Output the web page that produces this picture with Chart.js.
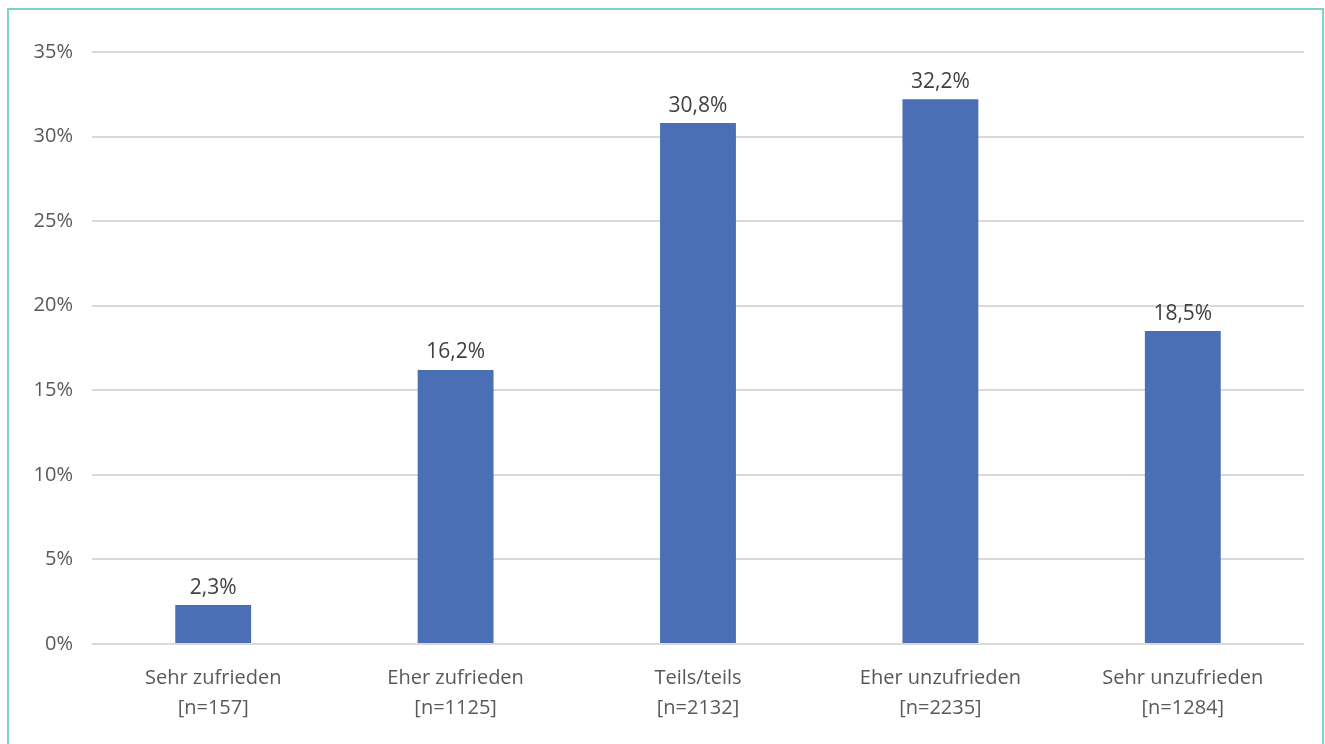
<!DOCTYPE html>
<html><head><meta charset="utf-8">
<script src="https://cdn.jsdelivr.net/npm/chart.js@4"></script>
<style>
html,body{margin:0;padding:0;background:#fff;overflow:hidden}
#wrap{position:absolute;left:0;top:0;width:1325px;height:744px}
#frame{position:absolute;left:7px;top:8px;width:1313px;height:760px;border:2px solid #7fd0c8;pointer-events:none}
</style></head>
<body>
<div id="wrap"><canvas id="c" width="1325" height="744"></canvas></div>
<div id="frame"></div>
<script>
const categories = [["Sehr zufrieden","[n=157]"],["Eher zufrieden","[n=1125]"],["Teils/teils","[n=2132]"],["Eher unzufrieden","[n=2235]"],["Sehr unzufrieden","[n=1284]"]];
const values = [2.3, 16.2, 30.8, 32.2, 18.5];
const valueLabels = ["2,3%","16,2%","30,8%","32,2%","18,5%"];
const yTicks = [0,5,10,15,20,25,30,35];

const FONT = "'Open Sans', sans-serif";
const labelPlugin = {
  id:'vlabels',
  afterDatasetsDraw(chart){
    const ctx = chart.ctx;
    const meta = chart.getDatasetMeta(0);
    ctx.save();
    ctx.font = "21px " + FONT;
    ctx.fillStyle = "#404040";
    ctx.textAlign = "center";
    ctx.textBaseline = "bottom";
    meta.data.forEach((bar,i)=>{
      ctx.fillText(valueLabels[i], bar.x, bar.y - 7);
    });
    ctx.restore();
  }
};

new Chart(document.getElementById('c'),{
  type:'bar',
  data:{labels:categories,datasets:[{data:values,backgroundColor:'#4a6fb4',categoryPercentage:1,barPercentage:0.313}]},
  options:{
    responsive:false,animation:false,
    layout:{padding:{left:0,right:21,top:52,bottom:0}},
    plugins:{legend:{display:false},tooltip:{enabled:false}},
    scales:{
      x:{
        grid:{display:false},border:{display:false},
        ticks:{color:'#595959',font:{family:FONT,size:20,lineHeight:1.5},padding:11,maxRotation:0,autoSkip:false},
        afterFit(s){s.height=100;}
      },
      y:{
        min:0,max:35,
        afterBuildTicks(s){s.ticks=yTicks.map(v=>({value:v}));},
        grid:{color:'#d9d9d9',lineWidth:2,drawTicks:false},
        border:{display:false},
        ticks:{color:'#595959',font:{family:FONT,size:20},padding:19,callback:v=>v+'%'},
        afterFit(s){s.width=92;}
      }
    }
  },
  plugins:[labelPlugin]
});
</script>
</body></html>
